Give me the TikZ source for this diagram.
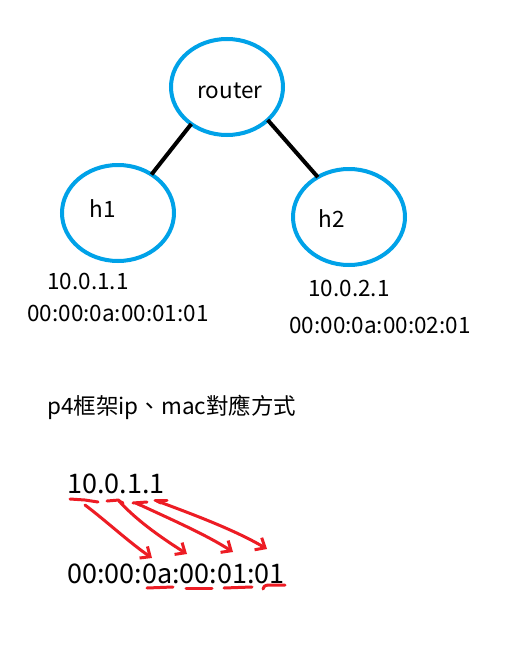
\documentclass[tikz,border=0pt]{standalone}
\usepackage{fontspec}
\setmainfont{Noto Sans CJK TC}
\usetikzlibrary{shapes.geometric,arrows.meta}
\definecolor{paintblue}{RGB}{0,162,232}
\definecolor{paintred}{RGB}{237,28,36}
\tikzset{
  hostnode/.style={ellipse, draw=paintblue, line width=4pt, minimum width=112pt, minimum height=96pt, inner sep=0pt, outer sep=0pt},
  link/.style={line width=4pt, black},
  txt/.style={inner sep=0pt, anchor=base, font=\fontsize{22.5}{26}\selectfont},
  bigtxt/.style={inner sep=0pt, anchor=base, font=\fontsize{27}{31}\selectfont},
  redmark/.style={line width=3pt, paintred, line cap=round, line join=round},
  redarrow/.style={redmark, -{Straight Barb[length=8pt,width=14pt,line width=3pt]}}
}
\begin{document}
\begin{tikzpicture}[x=1pt,y=-1pt]
\useasboundingbox (0,0) rectangle (527,645);
\fill[white] (0,0) rectangle (527,645);
% nodes
\node[hostnode] (router) at (227,87) {};
\node[hostnode] (h1) at (118,213) {};
\node[hostnode] (h2) at (349,217) {};
\node[txt] (routerlbl) at (230,98) {router};
\node[txt] (h1lbl) at (103,217) {h1};
\node[txt] (h2lbl) at (332,227) {h2};
\draw[link] (router.226) -- (h1.49);
\draw[link] (router.321) -- (h2.128);
% addresses
\node[txt] (ip1) at (88,289) {10.0.1.1};
\node[txt] (mac1) at (118,321) {00:00:0a:00:01:01};
\node[txt] (ip2) at (349,296) {10.0.2.1};
\node[txt] (mac2) at (380,333) {00:00:0a:00:02:01};
% title
\node[txt, anchor=base west] (title) at (47,414) {p4框架ip、mac對應方式};
% bottom example
\node[bigtxt, anchor=base west] (ipb) at (67,493) {10.0.1.1};
\node[bigtxt, anchor=base west] (macb) at (67,583) {00:00:0a:00:01:01};
% top underlines
\draw[redmark] (70,499) -- (85,500) -- (98,502);
\draw[redmark] (107,501) -- (119,500);
\draw[redmark] (133,503) -- (147,502);
\draw[redmark] (155,500) -- (167,500);
% bottom underlines
\draw[redmark] (147,588) -- (173,587);
\draw[redmark] (186,588) -- (212,588);
\draw[redmark] (224,588) -- (252,587);
\draw[redmark] (263,589) .. controls (264,586) .. (268,585) -- (285,585);
% arrows
\coordinate (a1s) at (85,505);
\coordinate (a1e) at (152,558);
\coordinate (a2s) at (119,501);
\coordinate (a2e) at (187,554);
\coordinate (a3s) at (136,503);
\coordinate (a3e) at (233,552);
\coordinate (a4s) at (157,501);
\coordinate (a4e) at (267,549);
\draw[redarrow] (a1s) .. controls (105,520) and (130,543) .. (a1e);
\draw[redmark] (123,503) -- (a2s);
\draw[redarrow] (a2s) .. controls (138,522) and (165,540) .. (a2e);
\draw[redmark] (140,505) -- (a3s);
\draw[redarrow] (a3s) .. controls (168,518) and (205,534) .. (a3e);
\draw[redmark] (161,503) -- (a4s);
\draw[redarrow] (a4s) .. controls (192,514) and (235,530) .. (a4e);
\end{tikzpicture}
\end{document}
